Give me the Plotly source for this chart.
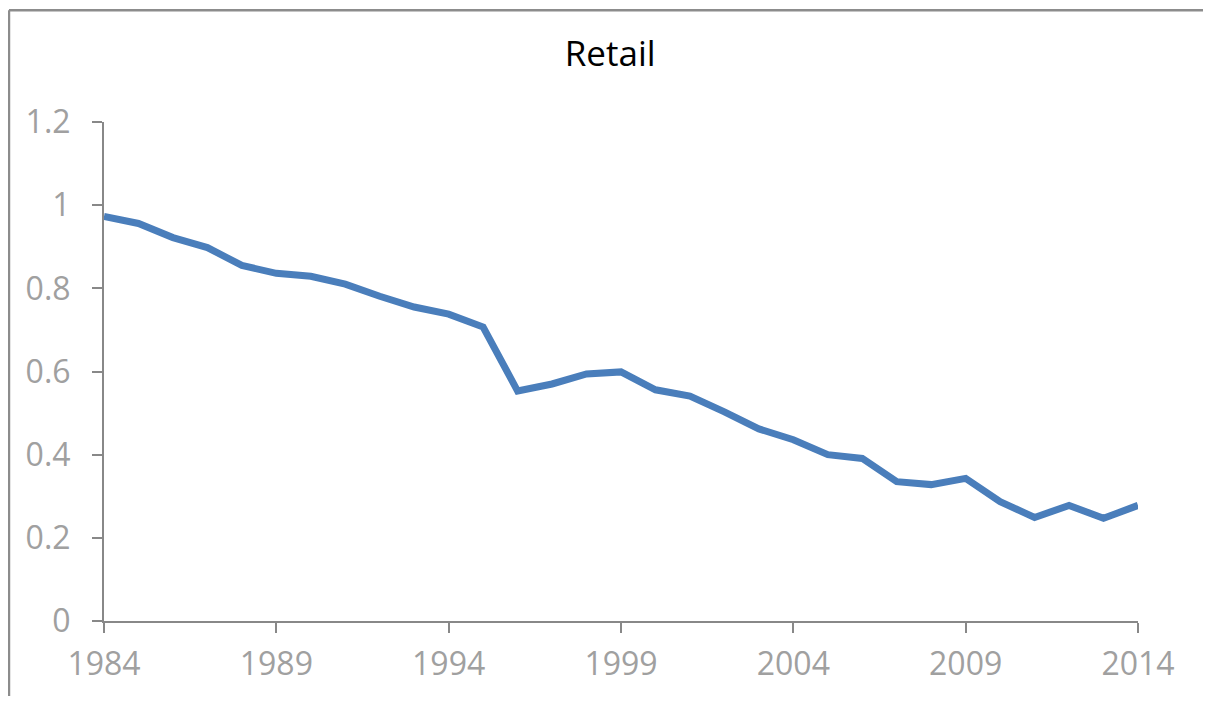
import plotly.graph_objects as go

years = list(range(1984, 2015))
retail = [0.973, 0.956, 0.922, 0.898, 0.855, 0.836, 0.829, 0.810, 0.781, 0.755,
          0.738, 0.707, 0.553, 0.570, 0.594, 0.599, 0.556, 0.541, 0.503, 0.462,
          0.436, 0.400, 0.391, 0.335, 0.328, 0.343, 0.287, 0.249, 0.278, 0.247,
          0.278]
x_ticks = [1984, 1989, 1994, 1999, 2004, 2009, 2014]
y_ticks = [0, 0.2, 0.4, 0.6, 0.8, 1, 1.2]
y_tick_text = ["0", "0.2", "0.4", "0.6", "0.8", "1", "1.2"]

FONT = "Open Sans, Noto Sans, sans-serif"
AX = "#888888"
LBL = "#a0a0a0"
BORDER = dict(color="#8c8c8c", width=2.5)

fig = go.Figure()
fig.add_trace(go.Scatter(x=years, y=retail, mode="lines",
                         line=dict(color="#4a7ebb", width=7),
                         showlegend=False, hoverinfo="x+y"))

fig.update_layout(
    width=1195, height=688,
    margin=dict(l=96, r=65, t=114, b=73),
    paper_bgcolor="white", plot_bgcolor="white",
    title=dict(text="Retail", x=0.4895, xref="paper", y=0.933, yanchor="middle",
               xanchor="center",
               font=dict(family=FONT, size=35, color="#000000")),
    font=dict(family=FONT),
    xaxis=dict(range=[1984, 2014], tickvals=x_ticks,
               ticktext=[str(v) for v in x_ticks],
               showgrid=False, zeroline=False, showline=True,
               linecolor=AX, linewidth=2, ticks="outside", ticklen=10,
               tickwidth=2, tickcolor=AX, ticklabelstandoff=4,
               tickfont=dict(family=FONT, size=32, color=LBL)),
    yaxis=dict(range=[0, 1.2], tickvals=y_ticks, ticktext=y_tick_text,
               showgrid=False, zeroline=False, showline=True,
               linecolor=AX, linewidth=2, ticks="outside", ticklen=10,
               tickwidth=2, tickcolor=AX, ticklabelstandoff=15,
               tickfont=dict(family=FONT, size=32, color=LBL)),
    shapes=[
        dict(type="line", xref="paper", yref="paper",
             x0=-0.0919, x1=-0.0919, y0=-0.4, y1=1.224, line=BORDER, layer="below"),
        dict(type="line", xref="paper", yref="paper",
             x0=-0.0919, x1=1.2, y0=1.224, y1=1.224, line=BORDER, layer="below"),
    ],
)

fig.write_html("out.html")
